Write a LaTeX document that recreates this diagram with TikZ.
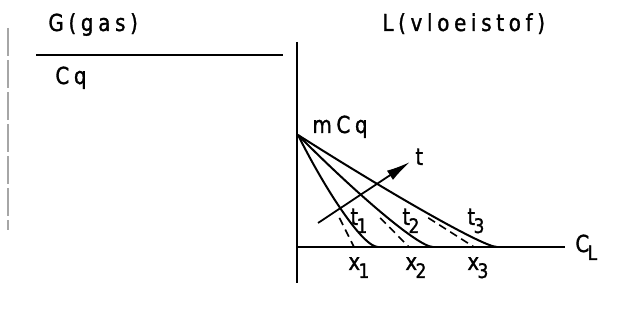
\documentclass[tikz,border=0pt]{standalone}
\usepackage{fontspec}
\setmainfont{DejaVu Sans}[FakeStretch=0.85,LetterSpace=20,FakeBold=1.3]
\usetikzlibrary{arrows.meta,calc}
\newcommand{\lowidx}[1]{\hspace{-0.8pt}\raisebox{-4pt}{\fontsize{10}{12}\selectfont #1}}

\tikzset{
  lbl/.style={inner sep=0pt,anchor=base west,font=\fontsize{11.7}{14}\selectfont},
  prof/.style={line width=1pt},
  tang/.style={line width=0.8pt,dash pattern=on 4pt off 2.5pt},
}

\begin{document}
\begin{tikzpicture}[x=0.5pt,y=0.5pt]
    \useasboundingbox (0,0) rectangle (625,324);
    % scan edge
    \draw[black!35,line width=0.6pt,dash pattern=on 14pt off 2pt] (8,296) -- (8,94);
    % gas side
    \node[lbl] (gas) at (48,293) {G(gas)};
    \coordinate (gl) at (36,269);
    \coordinate (gr) at (283,269);
    \draw[line width=1pt] (gl) -- (gr);
    \node[lbl] (cq) at (55,240) {Cq};
    % liquid side
    \node[lbl] (liq) at (382,293) {L(vloeistof)};
    \coordinate (top) at (297,282);
    \coordinate (bot) at (297,41);
    \coordinate (o) at (297,77);
    \coordinate (xend) at (565,77);
    \draw[line width=1.3pt] (top) -- (bot);
    \draw[line width=1pt] (o) -- (xend);
    \node[lbl] (cl) at (575,72) {C\lowidx{L}};
    \coordinate (mcq) at (298,189);
    \node[lbl] (mlab) at (312,191) {mCq};
    % profiles
    \foreach \i/\xt/\xe/\xl in {1/354/378/348,2/409/433/405,3/474/497/467}{
      \coordinate (tan\i) at (\xt,77);
      \coordinate (end\i) at (\xe,77);
      \draw[prof] (mcq) .. controls ($(mcq)!0.5!(tan\i)$) and ($(tan\i)+(9,0)$) .. (end\i);
      \draw[tang] ($(mcq)!0.74!(tan\i)$) -- (tan\i);
      \node[lbl] (x\i) at (\xl,54) {x\lowidx{\i}};
    }
    \foreach \i/\xl in {1/350,2/402,3/467}{\node[lbl] (t\i) at (\xl,99) {t\lowidx{\i}};}
    \coordinate (ts) at (318,101);
    \coordinate (te) at (410,162);
    \draw[line width=0.9pt,-{Latex[length=12pt,width=5.5pt]}] (ts) -- (te);
    \node[lbl] (t) at (415,159) {t};
  \end{tikzpicture}
\end{document}
